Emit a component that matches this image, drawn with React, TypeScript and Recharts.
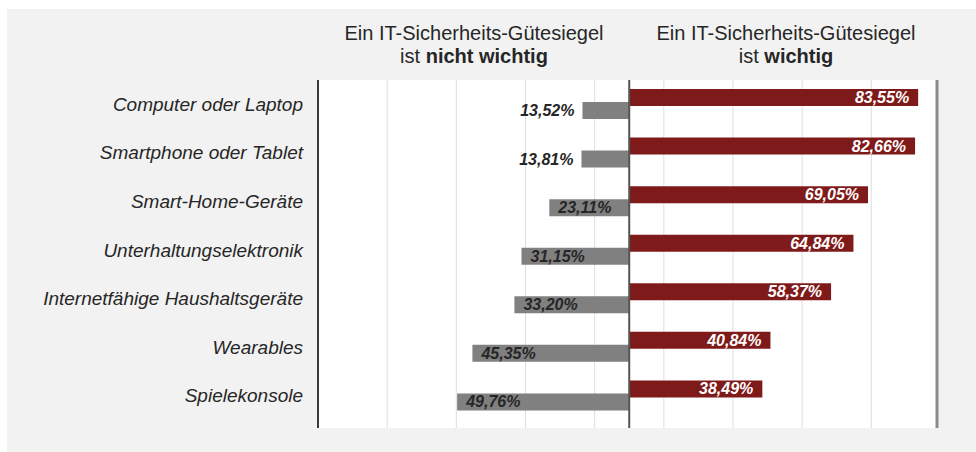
import React from 'react';
import { BarChart, Bar, XAxis, YAxis, CartesianGrid, ReferenceLine, LabelList } from 'recharts';

const categories = [
  'Computer oder Laptop',
  'Smartphone oder Tablet',
  'Smart-Home-Geräte',
  'Unterhaltungselektronik',
  'Internetfähige Haushaltsgeräte',
  'Wearables',
  'Spielekonsole',
];
const wichtig = [83.55, 82.66, 69.05, 64.84, 58.37, 40.84, 38.49];
const nichtWichtig = [13.52, 13.81, 23.11, 31.15, 33.2, 45.35, 49.76];
const gridTicks = [-70, -50, -30, -10, 10, 30, 50, 70];
const headerLeft = ['Ein IT-Sicherheits-Gütesiegel', 'ist ', 'nicht wichtig'];
const headerRight = ['Ein IT-Sicherheits-Gütesiegel', 'ist ', 'wichtig'];

const data = categories.map((c, i) => ({
  name: c,
  wichtig: wichtig[i],
  nicht: -nichtWichtig[i],
}));

const FONT = '"Liberation Sans", Arial, sans-serif';
const fmt = (v: number) => Math.abs(v).toFixed(2).replace('.', ',') + '%';

const CatTick = (props: any) => {
  const { x, y, payload } = props;
  return (
    <text x={x} y={y} textAnchor="end" dominantBaseline="central" fontFamily={FONT} fontSize={19} fontStyle="italic" fill="#262626">
      {payload.value}
    </text>
  );
};

const RedLabel = (props: any) => {
  const { x, y, width, height, value } = props;
  const right = Math.max(x, x + width);
  return (
    <text x={right - 9} y={y + height / 2} textAnchor="end" dominantBaseline="central" fontFamily={FONT} fontSize={16} fontStyle="italic" fontWeight="bold" fill="#ffffff">
      {fmt(value)}
    </text>
  );
};

const GrayLabel = (props: any) => {
  const { x, y, width, height, value } = props;
  const left = Math.min(x, x + width);
  const inside = Math.abs(value) >= 20;
  return (
    <text x={inside ? left + 9 : left - 8} y={y + height / 2} textAnchor={inside ? 'start' : 'end'} dominantBaseline="central" fontFamily={FONT} fontSize={16} fontStyle="italic" fontWeight="bold" fill="#262626">
      {fmt(value)}
    </text>
  );
};

const Header = ({ parts, cx }: { parts: string[]; cx: number }) => (
  <div style={{ position: 'absolute', left: cx - 200, top: 22, width: 400, textAlign: 'center', fontFamily: FONT, fontSize: 20, lineHeight: '23px', color: '#262626' }}>
    <div>{parts[0]}</div>
    <div>
      {parts[1]}
      <b>{parts[2]}</b>
    </div>
  </div>
);

export default function App() {
  return (
    <div style={{ position: 'absolute', left: 0, top: 0, width: 976, height: 452, background: '#ffffff', overflow: 'hidden' }}>
      <div style={{ position: 'absolute', left: 7, top: 9, right: 0, bottom: 0, background: '#f2f2f2' }} />
      <Header parts={headerLeft} cx={474} />
      <Header parts={headerRight} cx={786} />
      <div style={{ position: 'absolute', left: 0, top: 0 }}>
        <BarChart
          width={976}
          height={452}
          data={data}
          layout="vertical"
          margin={{ top: 80, right: 39, bottom: 24, left: 8 }}
          barGap={-4}
          barSize={17}
        >
          <CartesianGrid horizontal={false} vertical={true} fill="#ffffff" stroke="#dedede" strokeWidth={1} />
          <XAxis type="number" domain={[-90, 89]} ticks={gridTicks} hide allowDataOverflow />
          <YAxis
            type="category"
            dataKey="name"
            width={310}
            tick={<CatTick />}
            tickLine={false}
            tickSize={0}
            tickMargin={15}
            axisLine={{ stroke: '#3a3a3a', strokeWidth: 2 }}
            padding={{ top: 0, bottom: 8 }}
            interval={0}
          />
          <Bar dataKey="wichtig" fill="#7f1a1a" isAnimationActive={false}>
            <LabelList dataKey="wichtig" content={<RedLabel />} />
          </Bar>
          <Bar dataKey="nicht" fill="#808080" isAnimationActive={false}>
            <LabelList dataKey="nicht" content={<GrayLabel />} />
          </Bar>
          <ReferenceLine x={0} stroke="#555555" strokeWidth={2} />
          <ReferenceLine x={89} stroke="#8a8a8a" strokeWidth={3} />
        </BarChart>
      </div>
    </div>
  );
}
